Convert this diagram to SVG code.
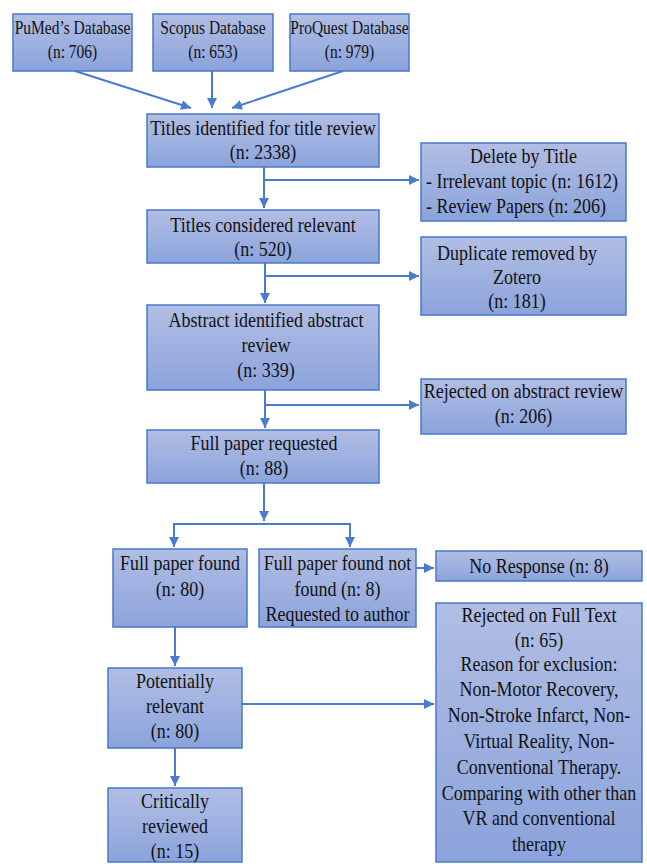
<svg xmlns="http://www.w3.org/2000/svg" width="647" height="864" viewBox="0 0 647 864">
<defs>
<linearGradient id="g" x1="0" y1="0" x2="0" y2="1">
<stop offset="0" stop-color="#b1bee4"/>
<stop offset="1" stop-color="#8ba3db"/>
</linearGradient>
<marker id="ah" viewBox="0 0 10 10" refX="10" refY="5" markerWidth="5" markerHeight="5" markerUnits="strokeWidth" orient="auto">
<path d="M0,0 L10,5 L0,10 z" fill="#4a7bcf"/>
</marker>
<style>
rect.box{fill:url(#g);stroke:#4a78c8;stroke-width:1.5}
text{font-family:"Liberation Serif","Times New Roman",serif;font-size:18px;fill:#111;text-anchor:middle}
text.s{font-size:15.5px}
text.l{text-anchor:start}
.c line,.c path{stroke:#4a7bcf;stroke-width:2;fill:none}
.c .a{marker-end:url(#ah)}
</style>
</defs>
<rect width="647" height="864" fill="#fff"/>

<g class="c" id="connectors">
<line class="a" x1="75" y1="71" x2="191" y2="108"/>
<line class="a" x1="212" y1="71" x2="212" y2="108"/>
<line class="a" x1="343" y1="71" x2="232" y2="108"/>
<line class="a" x1="264" y1="167" x2="264" y2="208"/>
<line class="a" x1="264" y1="180" x2="419" y2="180"/>
<line class="a" x1="265" y1="263" x2="265" y2="303"/>
<line class="a" x1="265" y1="276" x2="419" y2="276"/>
<line class="a" x1="265" y1="390" x2="265" y2="428"/>
<line class="a" x1="265" y1="405" x2="419" y2="405"/>
<line class="a" x1="264" y1="483" x2="264" y2="521"/>
<path d="M174,546 V524 H350 V546"/>
<line class="a" x1="174" y1="524" x2="174" y2="547"/>
<line class="a" x1="350" y1="524" x2="350" y2="547"/>
<line class="a" x1="416" y1="568" x2="434" y2="568"/>
<line class="a" x1="175" y1="627" x2="175" y2="666"/>
<line class="a" x1="242" y1="704" x2="434" y2="704"/>
<line class="a" x1="175" y1="748" x2="175" y2="786"/>
</g>

<g id="pubmed">
<rect class="box" x="13" y="14" width="119" height="57"/>
<text class="s" transform="translate(72.5,34) scale(1,1.25)">PuMed’s Database</text>
<text class="s" transform="translate(72.5,58) scale(1,1.25)">(n: 706)</text>
</g>
<g id="scopus">
<rect class="box" x="153" y="14" width="120" height="57"/>
<text class="s" transform="translate(213,34) scale(1,1.25)">Scopus Database</text>
<text class="s" transform="translate(213,58) scale(1,1.25)">(n: 653)</text>
</g>
<g id="proquest">
<rect class="box" x="290" y="14" width="119" height="57"/>
<text class="s" transform="translate(349.5,34) scale(1,1.25)">ProQuest Database</text>
<text class="s" transform="translate(349.5,58) scale(1,1.25)">(n: 979)</text>
</g>

<g id="titles-identified">
<rect class="box" x="147" y="114" width="232" height="53"/>
<text transform="translate(263,135) scale(1,1.12)">Titles identified for title review</text>
<text transform="translate(263,159) scale(1,1.12)">(n: 2338)</text>
</g>
<g id="delete-by-title">
<rect class="box" x="421" y="143" width="205" height="78"/>
<text transform="translate(523.5,163) scale(1,1.12)">Delete by Title</text>
<text class="l" transform="translate(426,188) scale(1,1.12)">- Irrelevant topic (n: 1612)</text>
<text class="l" transform="translate(426,213) scale(1,1.12)">- Review Papers (n: 206)</text>
</g>

<g id="titles-relevant">
<rect class="box" x="147" y="210" width="232" height="53"/>
<text transform="translate(263,232) scale(1,1.12)">Titles considered relevant</text>
<text transform="translate(263,256) scale(1,1.12)">(n: 520)</text>
</g>
<g id="duplicate">
<rect class="box" x="421" y="237" width="205" height="78"/>
<text transform="translate(517,260) scale(1,1.12)">Duplicate removed by</text>
<text transform="translate(517,284) scale(1,1.12)">Zotero</text>
<text transform="translate(517,308) scale(1,1.12)">(n: 181)</text>
</g>

<g id="abstract">
<rect class="box" x="147" y="305" width="232" height="85"/>
<text transform="translate(266,327) scale(1,1.12)">Abstract identified abstract</text>
<text transform="translate(266,352) scale(1,1.12)">review</text>
<text transform="translate(266,377) scale(1,1.12)">(n: 339)</text>
</g>
<g id="rejected-abstract">
<rect class="box" x="421" y="379" width="205" height="55"/>
<text transform="translate(523.5,398) scale(1,1.12)">Rejected on abstract review</text>
<text transform="translate(523.5,423) scale(1,1.12)">(n: 206)</text>
</g>

<g id="full-requested">
<rect class="box" x="147" y="430" width="232" height="53"/>
<text transform="translate(264,450) scale(1,1.12)">Full paper requested</text>
<text transform="translate(264,475) scale(1,1.12)">(n: 88)</text>
</g>

<g id="full-found">
<rect class="box" x="113" y="549" width="134" height="78"/>
<text transform="translate(180,570) scale(1,1.12)">Full paper found</text>
<text transform="translate(180,596) scale(1,1.12)">(n: 80)</text>
</g>
<g id="not-found">
<rect class="box" x="259" y="549" width="157" height="78"/>
<text transform="translate(337.5,570) scale(1,1.12)">Full paper found not</text>
<text transform="translate(337.5,596) scale(1,1.12)">found (n: 8)</text>
<text transform="translate(337.5,621) scale(1,1.12)">Requested to author</text>
</g>
<g id="no-response">
<rect class="box" x="436" y="551" width="206" height="30"/>
<text transform="translate(539,573) scale(1,1.12)">No Response (n: 8)</text>
</g>

<g id="potentially-relevant">
<rect class="box" x="108" y="668" width="134" height="80"/>
<text transform="translate(175,688) scale(1,1.12)">Potentially</text>
<text transform="translate(175,713) scale(1,1.12)">relevant</text>
<text transform="translate(175,738) scale(1,1.12)">(n: 80)</text>
</g>
<g id="critically-reviewed">
<rect class="box" x="108" y="788" width="134" height="74"/>
<text transform="translate(175,808) scale(1,1.12)">Critically</text>
<text transform="translate(175,833) scale(1,1.12)">reviewed</text>
<text transform="translate(175,858) scale(1,1.12)">(n: 15)</text>
</g>

<g id="rejected-full-text">
<rect class="box" x="436" y="603" width="206" height="259"/>
<text transform="translate(539,622) scale(1,1.12)">Rejected on Full Text</text>
<text transform="translate(539,647) scale(1,1.12)">(n: 65)</text>
<text transform="translate(539,671) scale(1,1.12)">Reason for exclusion:</text>
<text transform="translate(539,696) scale(1,1.12)">Non-Motor Recovery,</text>
<text transform="translate(539,722) scale(1,1.12)">Non-Stroke Infarct, Non-</text>
<text transform="translate(539,748) scale(1,1.12)">Virtual Reality, Non-</text>
<text transform="translate(539,774) scale(1,1.12)">Conventional Therapy.</text>
<text transform="translate(539,800) scale(1,1.12)">Comparing with other than</text>
<text transform="translate(539,825) scale(1,1.12)">VR and conventional</text>
<text transform="translate(539,851) scale(1,1.12)">therapy</text>
</g>
</svg>
